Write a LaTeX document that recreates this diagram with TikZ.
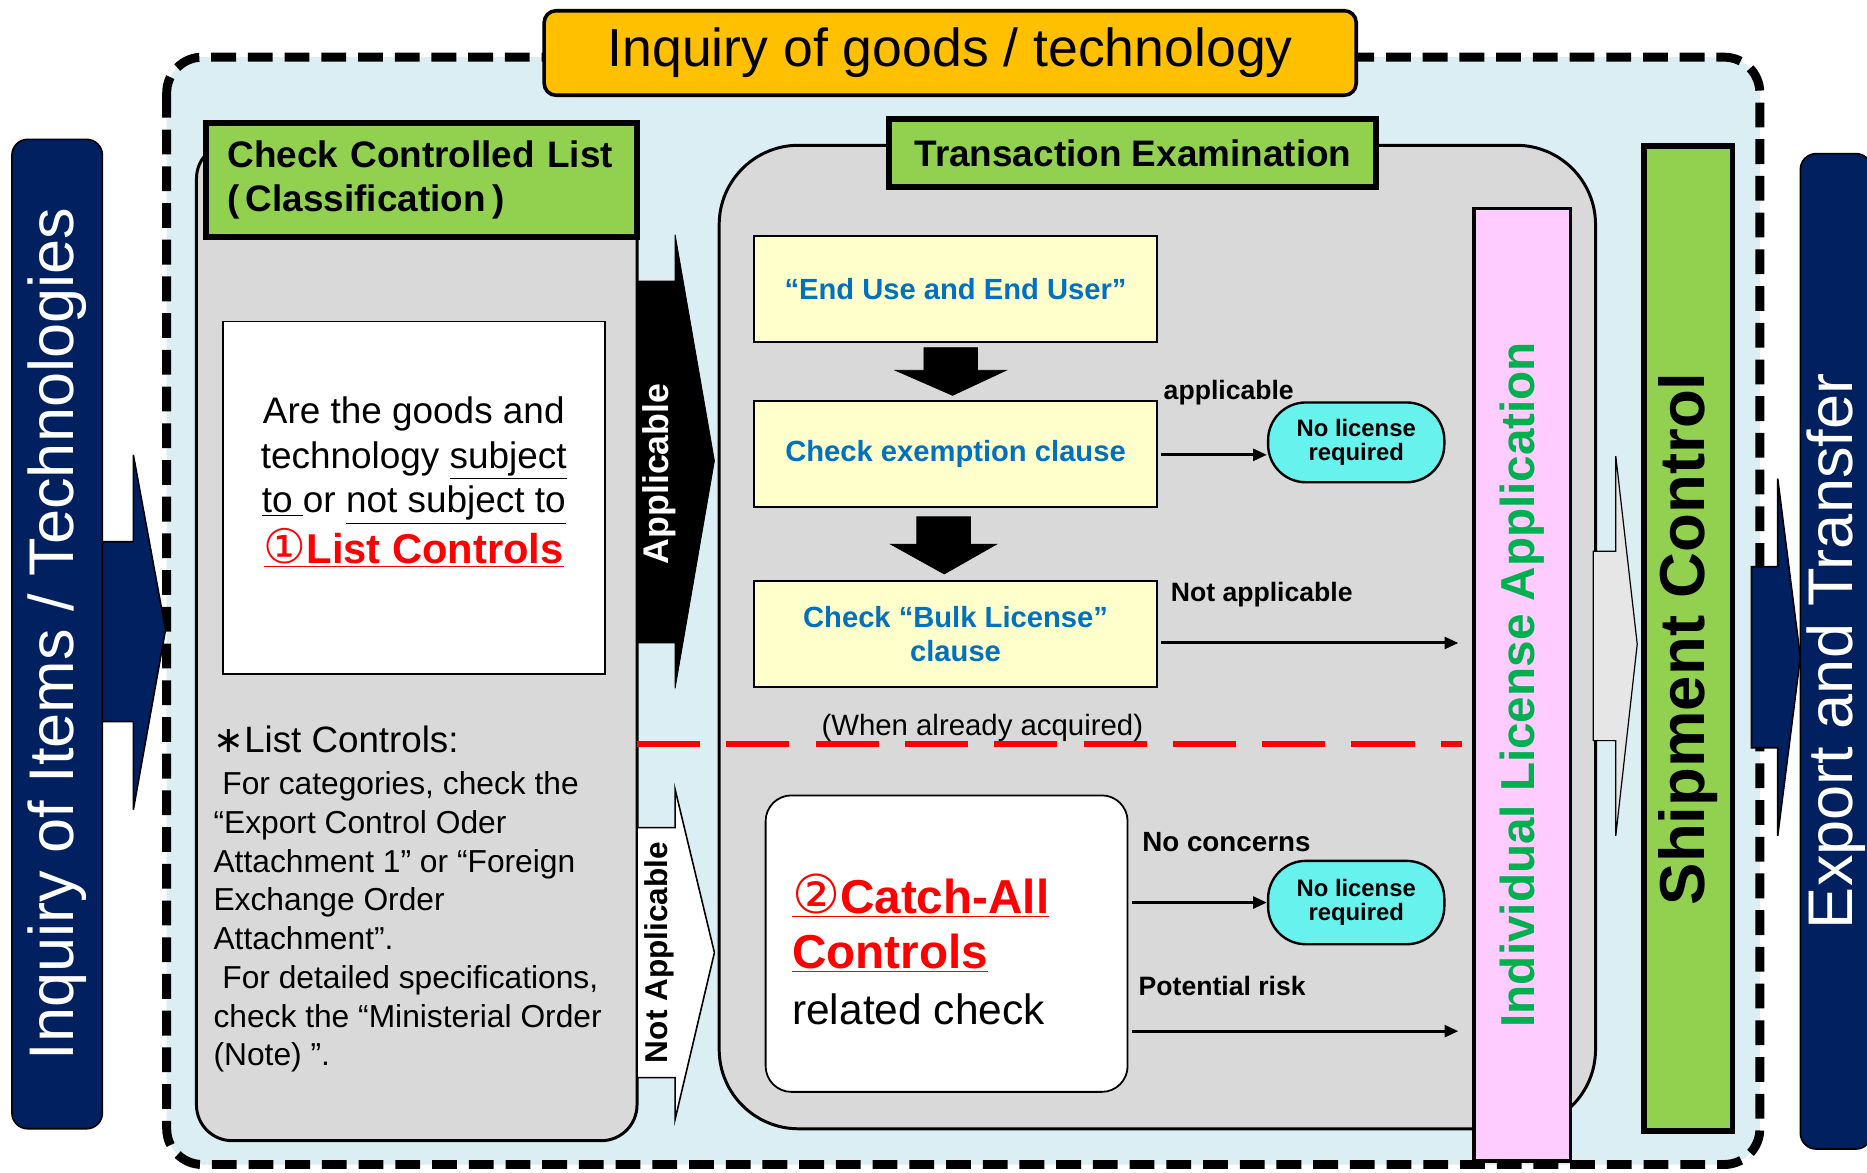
\documentclass[tikz,border=0pt]{standalone}
\usepackage{fontspec}
\setmainfont{Liberation Sans}
\newfontfamily\dejavu{DejaVu Sans}
\usetikzlibrary{arrows.meta}
\definecolor{navy}{HTML}{002060}
\definecolor{lblue}{HTML}{DAEEF3}
\definecolor{pgray}{HTML}{D9D9D9}
\definecolor{gold}{HTML}{FFC000}
\definecolor{lgreen}{HTML}{92D050}
\definecolor{lyellow}{HTML}{FFFFCC}
\definecolor{tblue}{HTML}{0070C0}
\definecolor{cyanov}{HTML}{68F2EE}
\definecolor{pinkbx}{HTML}{FFCCFF}
\definecolor{tgreen}{HTML}{00B050}
\definecolor{arrgray}{HTML}{E7E6E6}
\newcommand{\fsz}[2]{\fontsize{#1}{#2}\selectfont}
\newcommand{\ulx}[1]{\underline{#1}}
\begin{document}
\begin{tikzpicture}[x=0.6pt,y=-0.6pt,
  sidebox/.style={rotate=90, fill=navy, draw=black, line width=0.8pt, rounded corners=8pt, text=white, inner sep=0pt, font=\fsz{31.8}{36}},
  navyarrow/.style={fill=navy, draw=black, line width=0.8pt},
  titlebox/.style={fill=gold, draw=black, line width=1.8pt, rounded corners=6pt, inner sep=0pt, font=\fsz{27}{30}},
  panel/.style={fill=pgray, draw=black, line width=1.5pt, rounded corners=18pt, inner sep=0pt},
  hdr/.style={fill=lgreen, draw=black, line width=3pt, inner sep=0pt},
  wbox/.style={fill=white, draw=black, line width=0.9pt, inner sep=0pt},
  ybox/.style={fill=lyellow, draw=black, line width=0.9pt, inner sep=0pt, minimum width=203.4pt, minimum height=53.4pt, text=tblue, align=center, font=\bfseries\fsz{14.7}{17.4}},
  oval/.style={fill=cyanov, draw=black, line width=1.2pt, rounded corners=19pt, inner sep=0pt, minimum width=88.8pt, align=center, font=\bfseries\fsz{12}{12}},
  lbl/.style={anchor=west, inner sep=0pt, font=\bfseries\fsz{13.4}{15}},
  arr/.style={-{Triangle[length=7pt,width=6pt]}, line width=1.5pt},
  blockarrow/.style={fill=black}
]
\useasboundingbox (0,0) rectangle (1568,985);

% outer dashed frame
\path[fill=lblue, draw=black, line width=4.5pt, dash pattern=on 12.5pt off 6pt, rounded corners=18pt] (140,48) rectangle (1478,978);

% left side
\draw[navyarrow] (84,455) -- (112,455) -- (112,382) -- (139,529) -- (112,680) -- (112,606) -- (84,606) -- cycle;
\node[sidebox, minimum width=498.6pt, minimum height=45.6pt] (inq) at (48,532.5) {Inquiry of Items / Technologies};

% right side
\draw[navyarrow] (1471,476) -- (1493,476) -- (1493,402) -- (1512,552) -- (1493,702) -- (1493,628) -- (1471,628) -- cycle;
\node[sidebox, minimum width=501.6pt, minimum height=36pt] (exp) at (1542,547) {Export and Transfer};

% title
\node[titlebox, minimum width=409.2pt, minimum height=42.6pt] (title) at (798,44.5) {Inquiry of goods / technology};

% left panel
\node[panel, minimum width=222pt, minimum height=502.8pt] (lpanel) at (350,539) {};
\node[hdr, minimum height=57.6pt, text width=195.6pt, inner xsep=10.8pt, align=left, font=\bfseries\fsz{18.6}{22.2}] (h1) at (354,151) {Check Controlled List\\(\,Classification\,)};
\node[wbox, minimum width=192.6pt, minimum height=177.6pt] (qbox) at (347.5,418) {};
\node[align=center, inner sep=0pt, font=\fsz{18.6}{22.5}] (qtext) at (347.5,405) {Are the goods and\\technology \ulx{subject}\\\ulx{to\ }or \ulx{not subject to}\\[1pt]{\color{red}\bfseries\fsz{21}{25}\ulx{{\dejavu\mdseries\fsz{24}{25}①}List Controls}}};
\node[anchor=north west, align=left, inner sep=0pt, font=\fsz{16}{19.5}] (note) at (179,609) {{\fsz{18.5}{21}{\dejavu ∗}List Controls:}\\[2pt]\ For categories, check the\\“Export Control Oder\\Attachment 1” or “Foreign\\Exchange Order\\Attachment”.\\\ For detailed specifications,\\check the “Ministerial Order\\(Note) ”.};

% applicable arrows
\draw[blockarrow] (535,236) -- (567,236) -- (567,197) -- (600,387) -- (567,578) -- (567,540) -- (535,540) -- cycle;
\node[rotate=90, text=white, inner sep=0pt, font=\bfseries\fsz{18}{20}] (appl) at (554,398) {Applicable};
\draw[fill=white, draw=black, line width=0.8pt] (535,695) -- (567,695) -- (567,663) -- (600,800) -- (567,940) -- (567,905) -- (535,905) -- cycle;
\node[rotate=90, inner sep=0pt, font=\bfseries\fsz{15.9}{18}] (napp) at (554,800) {Not Applicable};

% transaction panel
\node[panel, rounded corners=40pt, minimum width=441.6pt, minimum height=495.6pt] (tpanel) at (972,535) {};
\node[hdr, minimum width=245.4pt, minimum height=34.2pt, font=\bfseries\fsz{18.6}{22}] (h2) at (951.5,128.5) {Transaction Examination};

\node[ybox] (b1) at (802.5,242.5) {“End Use and End User”};
\node[ybox] (b2) at (802.5,381.5) {Check exemption clause};
\node[ybox] (b3) at (802.5,532.5) {Check “Bulk License”\\clause};

\draw[blockarrow] (776,292) -- (821,292) -- (821,311) -- (845,311) -- (800,332) -- (752,311) -- (776,311) -- cycle;
\draw[blockarrow] (770,434) -- (815,434) -- (815,457) -- (837,457) -- (793,482) -- (748,457) -- (770,457) -- cycle;

% pink box
\node[rotate=90, fill=pinkbx, draw=black, line width=1.8pt, minimum width=480pt, minimum height=48.6pt, inner sep=0pt, text=tgreen, font=\bfseries\fsz{24}{28}] (pink) at (1278.5,575) {Individual License Application};

% upper outcomes
\node[lbl] (lapp) at (977,330) {applicable};
\node[oval, minimum height=40.2pt] (ov1) at (1139,371.5) {No license\\required};
\coordinate (ea) at (975,382);
\draw[arr] (ea) -- (ea -| ov1.west);
\node[lbl] (lnot) at (983,499) {Not applicable};
\coordinate (na) at (975,540);
\draw[arr, shorten >=7pt] (na) -- (na -| pink.north);

% red dashed divider
\coordinate (rdl) at (535,625);
\coordinate (rdr) at (1228,625);
\draw[red, line width=3pt, dash pattern=on 31.8pt off 13.2pt] (rdl) -- (rdr);
\node[inner sep=0pt, font=\fsz{14.8}{16}] (when) at (825,611) {(When already acquired)};

% catch-all
\node[wbox, rounded corners=13pt, minimum width=182.4pt, minimum height=149.4pt] (catch) at (795,792.5) {};
\node[anchor=west, align=left, inner sep=0pt, font=\fsz{21.4}{28}] (ctext) at (665,797) {{\color{red}\bfseries\fsz{24}{28}\ulx{{\dejavu\mdseries\fsz{27}{28}②}Catch-All}}\\{\color{red}\bfseries\fsz{24}{28}\ulx{Controls}}\\related check};
\node[lbl, font=\bfseries\fsz{14}{16}] (lnc) at (959,707) {No concerns};
\node[oval, minimum height=42pt] (ov2) at (1139,758) {No license\\required};
\draw[arr, shorten <=2pt] (catch.east |- ov2.west) -- (ov2.west);
\node[lbl] (lpr) at (956,828) {Potential risk};
\coordinate (prs) at (951,866);
\draw[arr, shorten >=7pt] (prs) -- (prs -| pink.north);

% gray arrow
\draw[fill=arrgray, draw=black, line width=0.6pt] (1338,463) -- (1357,463) -- (1357,383) -- (1375,541) -- (1357,702) -- (1357,622) -- (1338,622) -- cycle;

% shipment control
\node[rotate=90, fill=lgreen, draw=black, line width=3pt, minimum width=496.2pt, minimum height=44.4pt, inner sep=0pt, font=\bfseries\fsz{32}{36}] (ship) at (1418,536.5) {Shipment Control};
\end{tikzpicture}
\end{document}
